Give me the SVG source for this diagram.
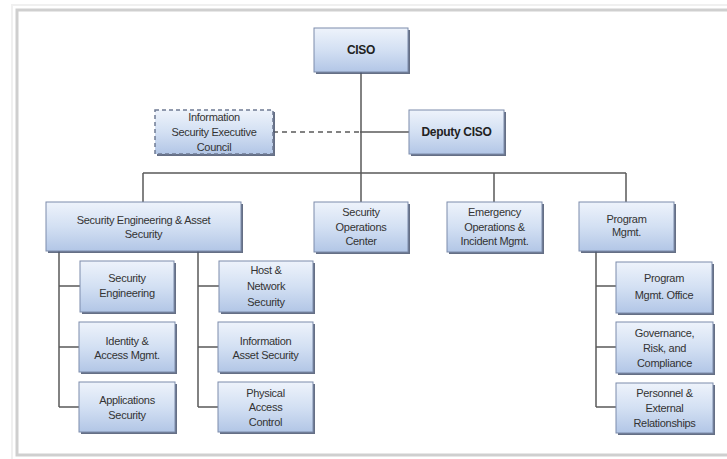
<svg xmlns="http://www.w3.org/2000/svg" width="727" height="459" viewBox="0 0 727 459">
<defs>
<linearGradient id="g" x1="0" y1="0" x2="0" y2="1">
<stop offset="0" stop-color="#eef3fb"/>
<stop offset="0.5" stop-color="#d3e0f3"/>
<stop offset="1" stop-color="#b2c6e6"/>
</linearGradient>
</defs>
<style>
.sh{fill:#4a5670;opacity:0.85}
.bx{fill:url(#g);stroke:#7d8cab;stroke-width:1}
.dash{stroke-dasharray:4 3;stroke:#6f7b94;stroke-width:1.5}
.t{font-family:"Liberation Sans",Arial,sans-serif;font-size:11px;fill:#333;text-anchor:middle;letter-spacing:-0.3px}
.b{font-weight:bold;font-size:12px;fill:#222}
.c{stroke:#5a5a5a;stroke-width:1.5;fill:none}
.cd{stroke:#5a5a5a;stroke-width:1.5;fill:none;stroke-dasharray:5 4}
</style>
<rect x="0" y="0" width="727" height="459" fill="#fff"/>
<rect x="17" y="10" width="720" height="445" fill="none" stroke="#cfcfcf" stroke-width="3"/>
<rect x="12" y="5" width="730" height="455" fill="none" stroke="#f0f0f0" stroke-width="2"/>

<g id="connectors">
<path class="c" d="M361 72V173M143 173H626M143 173V202M361 173V202M494 173V202M626 173V202"/>
<path class="cd" d="M273 132H360"/>
<path class="c" d="M360 132H409"/>
<path class="c" d="M59 251V407M59 286H80M59 347H79M59 407H79"/>
<path class="c" d="M198 251V407M198 286H219M198 347H218M198 407H218"/>
<path class="c" d="M596 251V407M596 286H616M596 347H616M596 407H616"/>
</g>

<g id="ciso">
<rect class="sh" x="316" y="30" width="94" height="44"/>
<rect class="bx" x="314" y="28" width="94" height="44"/>
<text class="t b" x="361" y="54">CISO</text>
</g>

<g id="isec">
<rect class="sh" x="157" y="112" width="118" height="44"/>
<rect class="bx dash" x="155" y="110" width="118" height="44"/>
<text class="t" x="214" y="121">Information</text>
<text class="t" x="214" y="136">Security Executive</text>
<text class="t" x="214" y="151">Council</text>
</g>

<g id="deputy">
<rect class="sh" x="411" y="112" width="95" height="44"/>
<rect class="bx" x="409" y="110" width="95" height="44"/>
<text class="t b" x="456.5" y="136">Deputy CISO</text>
</g>

<g id="seas">
<rect class="sh" x="48" y="204" width="195" height="49"/>
<rect class="bx" x="46" y="202" width="195" height="49"/>
<text class="t" x="143.5" y="224">Security Engineering &amp; Asset</text>
<text class="t" x="143.5" y="238">Security</text>
</g>

<g id="soc">
<rect class="sh" x="316" y="204" width="94" height="50"/>
<rect class="bx" x="314" y="202" width="94" height="50"/>
<text class="t" x="361" y="216">Security</text>
<text class="t" x="361" y="231">Operations</text>
<text class="t" x="361" y="245">Center</text>
</g>

<g id="eoim">
<rect class="sh" x="449" y="204" width="95" height="50"/>
<rect class="bx" x="447" y="202" width="95" height="50"/>
<text class="t" x="494.5" y="216">Emergency</text>
<text class="t" x="494.5" y="231">Operations &amp;</text>
<text class="t" x="494.5" y="245">Incident Mgmt.</text>
</g>

<g id="pm">
<rect class="sh" x="581" y="204" width="95" height="49"/>
<rect class="bx" x="579" y="202" width="95" height="49"/>
<text class="t" x="626.5" y="223">Program</text>
<text class="t" x="626.5" y="236">Mgmt.</text>
</g>

<g id="se">
<rect class="sh" x="82" y="263" width="94" height="51"/>
<rect class="bx" x="80" y="261" width="94" height="51"/>
<text class="t" x="127" y="282">Security</text>
<text class="t" x="127" y="297">Engineering</text>
</g>

<g id="iam">
<rect class="sh" x="81" y="324" width="96" height="50"/>
<rect class="bx" x="79" y="322" width="96" height="50"/>
<text class="t" x="127" y="345">Identity &amp;</text>
<text class="t" x="127" y="359">Access Mgmt.</text>
</g>

<g id="apps">
<rect class="sh" x="81" y="384" width="96" height="50"/>
<rect class="bx" x="79" y="382" width="96" height="50"/>
<text class="t" x="127" y="404">Applications</text>
<text class="t" x="127" y="419">Security</text>
</g>

<g id="hns">
<rect class="sh" x="221" y="263" width="94" height="51"/>
<rect class="bx" x="219" y="261" width="94" height="51"/>
<text class="t" x="266" y="274">Host &amp;</text>
<text class="t" x="266" y="290">Network</text>
<text class="t" x="266" y="306">Security</text>
</g>

<g id="ias">
<rect class="sh" x="220" y="324" width="95" height="50"/>
<rect class="bx" x="218" y="322" width="95" height="50"/>
<text class="t" x="265.5" y="345">Information</text>
<text class="t" x="265.5" y="359">Asset Security</text>
</g>

<g id="pac">
<rect class="sh" x="220" y="384" width="95" height="50"/>
<rect class="bx" x="218" y="382" width="95" height="50"/>
<text class="t" x="265.5" y="397">Physical</text>
<text class="t" x="265.5" y="411">Access</text>
<text class="t" x="265.5" y="426">Control</text>
</g>

<g id="pmo">
<rect class="sh" x="618" y="264" width="96" height="51"/>
<rect class="bx" x="616" y="262" width="96" height="51"/>
<text class="t" x="664" y="282">Program</text>
<text class="t" x="664" y="299">Mgmt. Office</text>
</g>

<g id="grc">
<rect class="sh" x="618" y="324" width="97" height="51"/>
<rect class="bx" x="616" y="322" width="97" height="51"/>
<text class="t" x="664.5" y="337">Governance,</text>
<text class="t" x="664.5" y="352">Risk, and</text>
<text class="t" x="664.5" y="367">Compliance</text>
</g>

<g id="per">
<rect class="sh" x="618" y="385" width="97" height="50"/>
<rect class="bx" x="616" y="383" width="97" height="50"/>
<text class="t" x="664.5" y="397">Personnel &amp;</text>
<text class="t" x="664.5" y="412">External</text>
<text class="t" x="664.5" y="427">Relationships</text>
</g>
</svg>
